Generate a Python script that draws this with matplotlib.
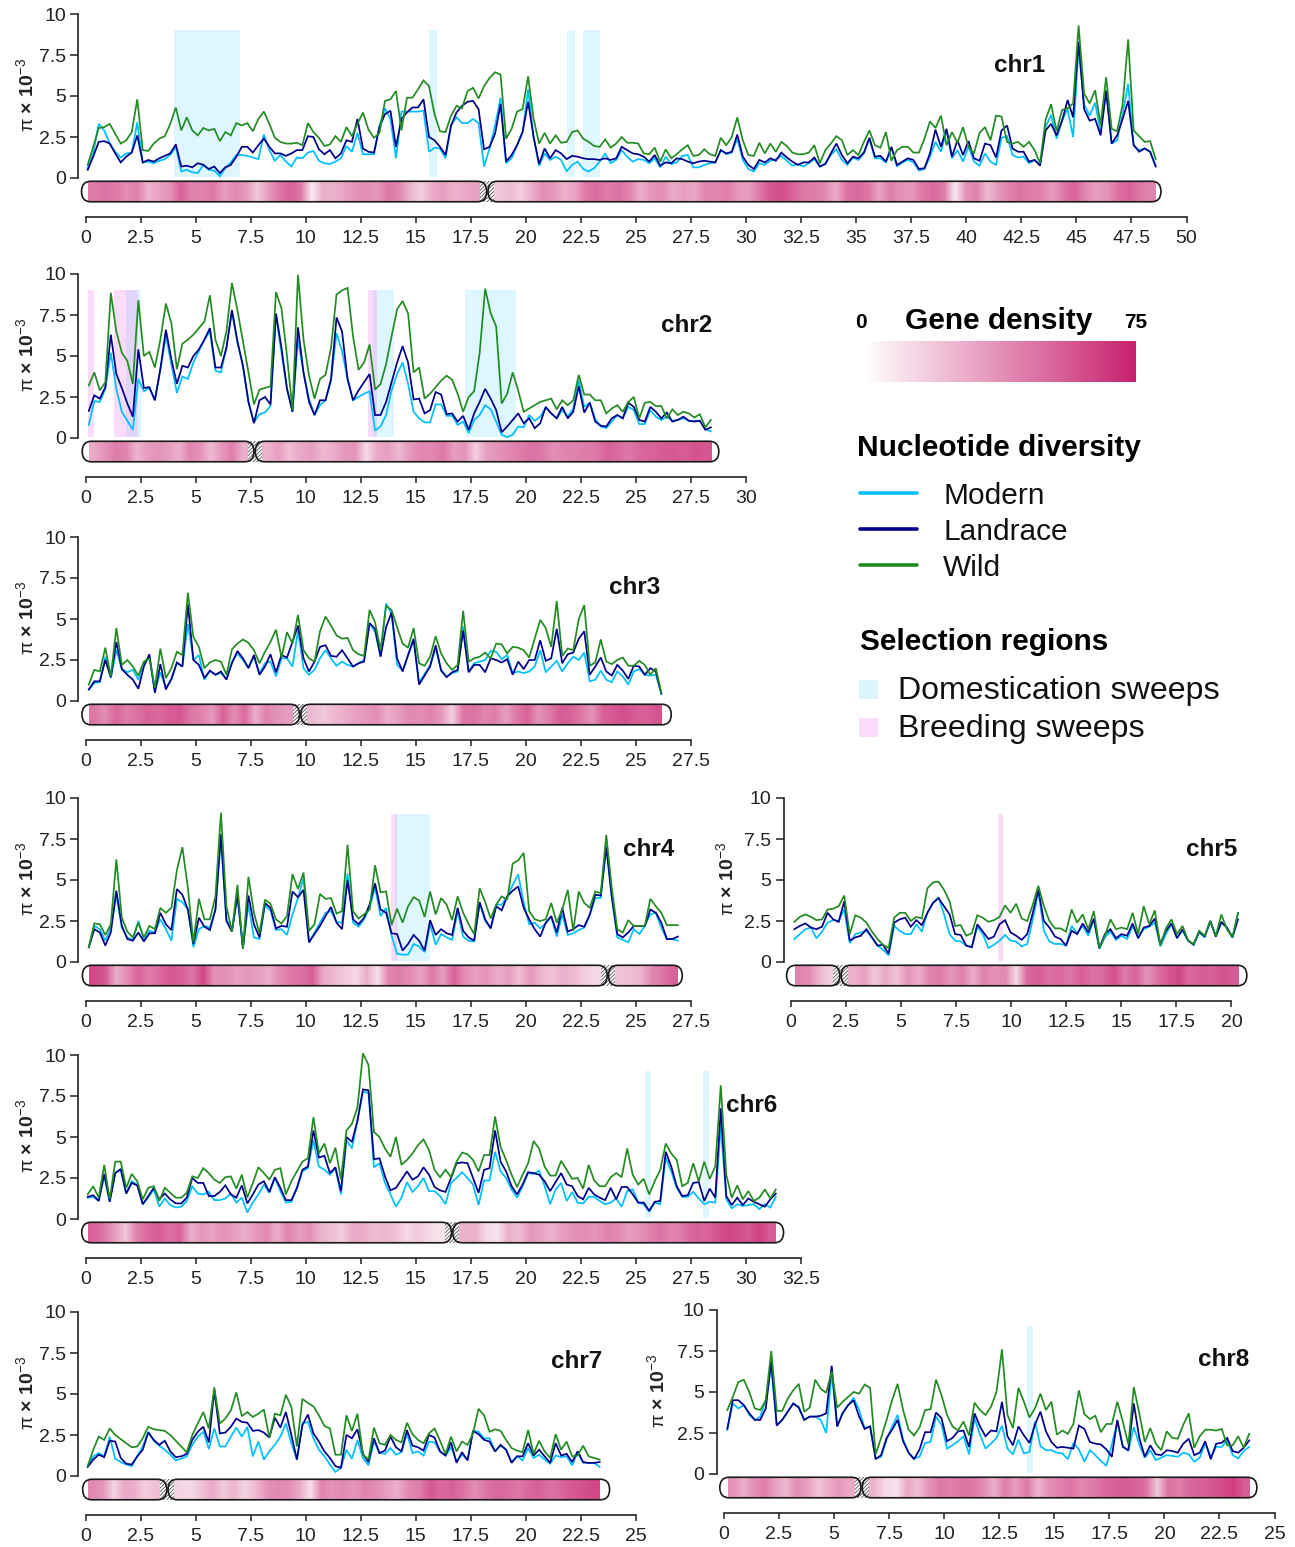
import numpy as np
import matplotlib
matplotlib.use('Agg')
import matplotlib.pyplot as plt
from matplotlib.colors import LinearSegmentedColormap
from matplotlib.lines import Line2D
from matplotlib.patches import FancyBboxPatch, Rectangle

plt.rcParams['font.family'] = ['Liberation Sans', 'DejaVu Sans']
plt.rcParams['mathtext.fontset'] = 'custom'
plt.rcParams['mathtext.rm'] = 'Liberation Sans'
plt.rcParams['mathtext.it'] = 'Liberation Sans'
plt.rcParams['mathtext.bf'] = 'Liberation Sans:bold'
plt.rcParams['hatch.linewidth'] = 0.6

# pi values, 0.25 Mb bins, one row = 5 Mb
chr1_wild = [.8,1.9,3.05,3.1,3.3,2.7,2.1,2.3,2.8,4.8,1.7,1.65,2.1,2.4,2.55,3.3,4.3,2.9,3.7,2.9,
    2.6,3.05,2.9,3.0,2.25,2.8,2.6,3.35,3.2,3.35,2.85,3.6,4.05,3.3,2.45,2.2,2.1,2.1,2.15,2.0,
    3.35,2.8,2.45,1.95,2.05,2.55,2.2,3.1,2.55,3.3,4.0,2.95,2.45,2.75,4.7,4.8,5.3,2.9,4.9,4.9,
    5.4,5.95,5.6,3.9,2.85,2.8,3.8,4.4,4.25,5.3,5.5,4.85,5.6,6.1,6.45,6.3,2.4,3.0,4.05,4.2,
    6.2,3.6,2.1,2.75,2.1,2.6,2.15,2.2,2.8,2.9,2.4,2.2,1.95,1.9,2.35,1.85,2.1,2.5,2.15,2.15,
    2.1,1.5,1.45,1.85,1.0,1.75,1.2,1.45,1.75,2.0,1.35,1.4,1.75,1.45,1.35,2.45,2.0,2.5,3.7,2.3,
    1.4,1.35,2.15,1.5,2.1,1.6,2.2,1.95,1.55,1.45,1.45,1.55,2.0,.9,1.7,2.1,2.55,2.3,1.4,1.7,
    1.4,2.2,2.9,2.0,1.85,2.8,1.05,1.7,1.9,1.9,1.55,1.55,2.4,3.45,3.05,3.8,2.0,2.8,2.15,3.1,
    1.9,1.5,2.75,3.1,2.3,3.8,3.75,2.2,2.1,2.2,1.9,2.2,1.7,.9,3.55,4.5,2.85,4.15,4.25,4.55,
    9.3,5.15,4.55,5.35,3.25,6.15,3.0,2.85,4.5,8.45,2.9,2.55,2.2,2.25,1.15]
chr1_land = [.5,1.3,2.2,2.25,2.1,1.5,.95,1.3,1.55,2.6,.95,1.1,1.0,1.2,1.35,1.5,2.05,.7,.75,.65,
    .9,.8,.55,.7,.3,.65,.8,1.3,1.9,1.9,1.55,2.0,2.4,1.9,1.5,1.5,1.35,1.5,1.7,1.7,
    2.55,2.5,1.75,1.45,1.7,1.2,1.5,2.3,2.2,3.6,1.8,1.6,1.55,3.1,3.9,4.1,1.9,3.6,4.0,4.3,
    4.3,4.8,2.5,2.3,1.9,1.4,3.2,4.0,4.4,4.65,4.7,4.2,1.75,1.9,2.7,4.5,1.0,1.4,2.0,2.8,
    4.65,2.5,.85,1.8,1.2,1.7,1.5,1.15,1.35,1.3,1.2,1.15,1.15,1.1,1.2,1.1,1.2,1.9,1.7,1.5,
    1.45,1.3,1.0,1.4,.75,.95,.9,1.2,1.15,1.0,.9,1.0,1.05,1.0,.95,1.7,1.5,1.6,2.65,1.3,
    .8,.55,1.1,.95,1.2,1.05,1.55,1.25,1.0,.8,.95,.95,1.25,.7,.85,1.5,2.1,1.4,.9,1.3,
    1.2,1.55,2.45,1.3,1.35,1.0,1.9,.8,1.0,1.2,1.1,.55,.6,1.5,2.95,1.9,3.0,1.3,2.3,1.4,
    2.25,1.2,1.05,2.1,2.0,1.25,2.9,3.2,1.8,1.6,1.6,1.0,1.1,.75,2.9,3.3,2.6,3.5,4.75,3.7,
    8.3,4.2,3.5,3.6,2.6,5.3,2.1,2.6,3.6,4.7,2.0,1.6,1.8,1.6,.7]
chr1_mod = [.6,1.5,3.3,2.9,2.1,1.6,1.25,1.5,1.55,3.4,.95,1.0,.9,1.05,1.15,1.4,1.9,.4,.5,.35,
    .3,.8,.5,.45,.1,.6,.95,1.4,1.4,1.35,1.25,1.15,2.65,1.7,1.05,1.4,1.0,.7,1.25,1.2,
    1.55,1.65,1.05,.9,.85,1.0,1.2,1.95,1.6,2.75,1.45,1.45,1.45,3.2,4.25,3.6,1.2,4.05,4.05,4.05,
    4.05,4.1,1.6,1.85,1.8,1.2,3.2,3.7,3.35,3.35,3.6,3.35,.7,1.8,3.2,4.9,.9,1.2,2.0,2.8,
    5.4,2.5,.75,1.5,1.1,1.3,1.1,.4,.8,1.0,.55,.4,.6,1.0,1.5,.9,1.1,1.7,1.3,1.0,
    1.15,1.1,.9,1.2,.65,1.3,.85,.95,1.35,1.4,.65,.65,.8,.9,.95,1.7,1.45,1.55,2.4,1.1,
    .55,.4,.9,.8,1.05,1.15,1.35,1.05,.75,.85,.7,.9,1.15,.7,.9,1.4,1.75,1.1,.8,1.25,
    1.1,1.5,2.4,1.2,1.2,.95,1.85,.7,.95,1.1,.95,.45,.55,1.3,2.2,1.6,2.9,1.2,1.7,1.0,
    1.9,1.0,.75,1.5,1.0,.8,2.45,2.55,1.4,1.25,1.3,.9,1.1,.8,3.1,3.85,2.4,3.5,4.2,2.5,
    8.0,4.5,3.8,4.6,2.8,5.4,2.1,2.3,3.9,5.75,2.0,1.7,1.8,1.6,.75]

chr2_wild = [3.2,4.0,2.9,3.4,8.85,6.5,5.2,4.7,3.3,8.4,5.0,5.25,4.3,6.0,8.2,7.0,4.2,5.75,6.0,6.3,
    6.7,7.1,8.7,6.0,5.0,6.5,9.45,7.8,5.9,4.0,2.05,2.95,3.05,3.15,8.9,7.9,5.0,1.7,9.95,6.0,
    3.8,2.4,3.6,3.85,5.5,8.75,9.0,9.15,6.2,4.15,4.6,5.7,2.95,3.3,4.5,6.2,7.85,8.35,7.6,4.0,
    4.3,2.4,2.7,3.1,3.5,3.8,3.55,2.7,1.6,2.5,2.85,5.2,9.1,7.6,6.8,2.1,2.7,4.0,2.9,1.6,
    1.8,2.0,2.2,2.3,2.4,1.75,2.3,2.0,2.3,3.85,2.65,2.65,2.3,2.3,1.5,1.8,2.0,1.6,2.2,2.5,
    1.2,2.15,2.2,1.95,1.95,1.2,1.75,1.4,1.6,1.5,1.25,1.45,.65,1.1]
chr2_land = [1.65,2.6,2.4,3.1,6.3,3.9,3.05,2.1,1.3,5.4,3.05,3.1,2.3,4.2,6.6,4.8,3.3,4.4,4.3,5.0,
    5.4,6.0,6.7,4.3,4.3,5.5,7.8,5.9,4.4,2.2,.9,2.3,2.5,2.05,7.6,5.5,3.0,1.6,6.75,4.0,
    2.2,1.4,2.3,2.3,3.6,7.35,6.5,3.6,2.3,2.9,3.4,3.9,1.4,1.4,2.2,3.4,4.6,5.6,4.6,2.35,
    2.4,1.5,1.7,2.8,2.65,1.45,1.5,1.0,1.35,.5,1.5,2.2,3.0,2.4,1.7,.35,.7,1.1,1.5,.9,
    1.2,.6,.9,1.9,1.5,1.2,1.9,1.2,1.6,3.15,1.55,2.15,1.0,.75,.7,1.2,1.4,1.2,2.15,1.9,
    1.1,1.0,1.9,1.6,1.2,1.55,1.0,1.1,1.3,1.05,1.0,1.05,.5,.65]
chr2_mod = [.8,2.25,2.2,3.0,5.2,3.0,1.6,1.05,.5,3.6,2.85,3.05,2.3,4.2,6.2,4.5,2.75,3.75,3.6,4.6,
    5.3,6.0,6.5,4.1,4.0,5.5,7.7,5.8,4.4,2.2,.95,1.45,1.55,1.95,7.5,5.2,3.0,1.6,6.0,4.0,
    2.4,1.4,2.0,2.3,3.5,6.4,5.3,3.6,2.3,2.5,2.7,2.85,.45,.7,1.4,2.9,3.9,4.6,3.3,1.6,
    1.2,.95,.95,2.05,2.05,1.35,1.35,.8,1.0,.3,1.1,1.4,2.0,1.75,1.0,.2,.05,.2,.7,.65,
    1.4,1.05,1.3,1.85,1.5,1.2,1.7,1.3,1.8,3.5,1.9,2.15,1.15,.7,.6,1.0,1.4,1.2,1.9,1.7,
    .85,.85,1.7,1.3,1.1,1.3,1.05,1.1,1.2,1.05,1.05,1.05,.55,.4]

chr3_wild = [1.0,1.9,1.8,3.25,1.5,4.45,2.2,2.5,2.1,1.55,2.4,2.6,.8,3.2,1.4,2.0,3.0,2.8,6.6,3.9,
    3.3,2.0,2.35,2.5,2.4,1.6,3.15,3.5,3.75,3.55,3.1,2.3,3.0,3.6,4.35,2.65,4.2,3.5,5.25,3.1,
    2.6,2.4,4.25,5.15,4.6,4.0,3.8,3.85,3.1,2.85,2.75,5.55,4.8,3.1,5.8,5.55,4.5,3.5,3.25,4.45,
    2.3,2.15,2.7,3.95,2.9,2.3,1.9,2.2,5.5,2.4,2.6,2.7,2.95,2.6,3.5,3.45,2.9,3.3,3.25,3.1,
    2.65,3.8,4.95,4.45,3.3,6.1,2.75,3.2,3.1,5.0,5.85,2.15,2.35,3.75,2.4,2.25,2.5,2.65,2.15,2.15,
    2.45,2.2,1.6,2.0,.5]
chr3_land = [.7,1.2,1.2,2.5,1.45,3.6,1.95,1.6,1.3,.75,2.1,2.85,.5,2.25,.7,1.35,2.35,2.1,5.9,2.5,
    2.2,1.4,1.85,1.6,1.8,1.3,2.3,3.05,2.6,2.0,2.8,1.6,2.1,2.85,1.75,2.8,2.65,3.6,4.6,2.6,
    1.8,2.4,3.3,3.4,2.75,2.7,3.1,2.6,2.1,2.3,2.4,4.75,4.4,2.7,4.5,5.4,2.6,1.8,2.8,3.8,
    1.0,1.55,2.1,3.4,1.85,1.45,1.75,1.9,4.3,1.75,2.2,2.2,1.75,2.6,2.5,2.35,2.55,1.6,2.4,1.95,
    2.5,2.5,3.7,2.45,2.6,4.4,2.3,2.85,2.95,3.8,4.25,1.6,2.1,2.65,1.8,1.55,2.2,1.85,1.35,2.15,
    2.1,1.6,2.0,1.8,.45]
chr3_mod = [.7,1.1,1.15,2.7,1.4,3.1,1.95,1.75,1.9,1.3,2.3,2.7,.6,1.75,.8,1.3,2.3,2.1,4.7,2.5,
    2.8,1.3,1.85,1.6,1.7,1.35,2.4,2.9,2.5,2.05,2.7,1.7,2.3,2.4,1.5,2.6,2.6,2.1,4.3,2.0,
    1.6,1.9,2.6,3.1,2.6,2.15,2.4,2.2,2.1,2.3,2.5,4.75,4.2,2.75,5.95,5.3,2.2,1.85,2.8,3.7,
    1.1,1.65,2.2,3.2,1.9,1.5,1.7,1.8,4.55,1.8,2.3,2.4,2.5,3.05,3.0,2.55,2.8,1.7,1.8,1.7,
    1.8,2.1,3.1,1.75,2.1,2.45,1.8,2.3,2.7,2.5,2.95,1.2,1.3,1.85,1.3,1.15,1.8,1.5,1.0,1.8,
    1.95,1.6,1.55,1.6,.45]

chr4_wild = [.9,2.35,2.3,1.65,2.3,6.25,2.7,1.85,1.5,2.4,1.5,2.2,2.0,3.3,3.0,3.3,5.6,7.0,4.5,1.2,
    3.85,2.6,2.6,4.0,9.1,3.4,1.85,4.7,.8,5.2,3.0,1.75,3.8,3.55,2.6,2.35,2.8,5.35,4.45,5.45,
    1.9,2.3,4.15,3.85,3.9,2.95,3.1,7.15,3.1,2.65,2.9,3.2,5.9,4.25,4.3,2.25,3.25,2.4,3.4,3.95,
    3.75,2.75,4.3,2.9,3.9,3.5,2.55,4.0,3.0,2.3,1.7,4.5,3.65,2.65,3.5,4.0,3.8,6.0,6.2,6.65,
    3.1,2.6,2.5,2.6,3.6,2.4,3.2,4.4,1.9,4.3,3.6,3.3,4.3,4.2,7.75,4.5,2.0,1.8,2.55,2.2,
    2.2,2.2,3.85,3.4,3.0,2.25,2.25,2.25]
chr4_land = [.9,2.0,1.8,1.0,1.8,4.35,2.2,1.4,1.3,1.8,1.25,1.75,1.75,3.0,2.3,1.95,4.45,4.1,3.2,1.1,
    2.7,2.15,1.95,3.2,7.8,2.5,1.85,4.1,.8,4.05,2.3,1.5,3.6,3.3,2.05,2.2,2.15,4.3,3.95,4.4,
    1.2,1.7,2.2,2.8,3.35,2.4,2.0,5.0,2.6,2.3,2.7,3.5,4.8,3.2,3.0,1.75,1.7,.7,1.1,1.65,
    1.3,.7,2.55,1.65,2.0,1.75,1.65,3.3,1.9,1.5,1.3,3.65,2.6,2.05,3.4,3.15,4.0,4.35,4.6,3.3,
    2.6,2.0,1.55,2.4,2.8,1.8,3.3,1.85,2.0,2.25,2.15,2.9,4.1,4.05,7.0,4.0,1.7,1.5,1.8,2.2,
    2.2,2.2,3.2,3.0,2.4,1.4,1.4,1.55]
chr4_mod = [.9,2.2,2.0,1.3,2.1,4.1,2.1,1.5,1.35,2.5,1.35,1.9,1.8,2.6,2.0,1.3,3.85,3.65,3.2,.9,
    2.0,2.2,2.1,3.2,7.5,2.6,1.9,4.0,.9,3.5,1.5,1.4,3.45,3.15,1.95,2.0,1.65,2.9,3.9,5.1,
    1.2,1.8,2.4,3.0,3.1,2.45,2.4,5.4,2.4,2.15,2.6,3.3,4.55,2.8,3.3,1.6,.5,.45,.45,1.1,
    .95,.6,2.3,1.05,1.7,1.5,1.35,3.1,1.55,1.3,1.25,3.6,2.5,2.05,3.5,3.5,4.0,4.7,5.35,3.6,
    2.3,2.4,2.05,2.35,2.75,1.55,2.9,1.65,1.75,1.95,2.1,2.85,3.9,3.9,7.1,3.9,1.5,1.35,1.2,2.0,
    1.7,2.2,2.9,3.0,2.1,1.4,1.4,1.3]

chr5_wild = [2.45,2.75,2.9,2.75,2.55,2.6,3.2,3.25,3.4,4.05,1.7,2.85,2.7,2.4,1.85,1.4,1.05,.85,2.7,3.0,
    3.0,2.5,2.75,2.65,4.5,4.85,4.9,4.4,3.7,2.2,2.25,1.6,1.75,2.85,2.7,2.45,2.55,2.75,3.45,3.0,
    3.55,2.65,2.5,3.5,4.65,3.4,2.5,2.05,2.05,1.85,3.2,2.4,2.9,2.0,3.1,.85,1.6,2.6,2.0,2.1,
    2.0,3.0,1.7,3.4,2.3,3.15,1.0,2.05,2.6,1.7,2.2,1.3,1.1,1.9,1.6,2.5,1.6,2.9,2.0,1.5,
    3.0]
chr5_land = [2.0,2.2,2.35,2.1,2.0,2.15,3.0,2.6,2.45,3.7,1.3,1.5,1.6,2.0,1.5,1.0,1.05,.5,2.4,2.6,
    2.7,2.15,2.55,2.25,3.0,3.6,3.9,3.4,2.9,1.7,1.65,1.0,.9,2.3,1.85,1.4,1.55,2.3,2.55,1.8,
    1.6,1.35,1.7,3.0,4.4,2.5,2.1,1.55,1.4,1.0,1.9,1.7,2.35,1.8,2.65,.85,1.7,2.0,1.45,1.7,
    1.6,2.35,1.45,2.1,2.2,2.65,1.1,1.9,2.35,1.45,2.0,1.3,1.05,1.85,1.55,2.5,1.55,2.45,2.1,1.5,
    2.6]
chr5_mod = [1.4,1.7,2.0,2.1,1.45,1.85,2.4,2.55,2.5,3.2,1.15,1.7,1.8,1.9,1.5,1.0,.75,.4,2.2,1.9,
    1.7,1.7,2.3,1.85,3.0,3.6,3.95,2.9,1.7,1.3,1.25,1.0,.9,2.15,1.7,.85,1.05,1.3,1.65,1.3,
    1.25,.95,1.1,2.6,4.3,1.9,1.25,1.1,1.1,1.0,2.2,1.75,2.2,1.6,2.6,.8,1.5,1.85,1.35,1.6,
    1.4,2.2,1.5,2.0,2.15,2.4,.95,1.7,2.3,1.5,1.9,1.3,1.1,1.8,1.5,2.5,1.55,2.4,2.1,1.5,
    3.0]

chr6_wild = [1.5,2.0,1.3,3.3,1.2,3.5,3.5,1.9,2.75,2.3,1.2,1.9,2.0,1.1,1.9,1.6,1.3,1.3,1.6,2.6,
    2.5,3.1,2.8,2.4,2.2,2.55,2.6,1.85,2.7,1.3,2.2,3.15,2.8,2.4,3.0,3.1,1.5,2.3,2.9,3.5,
    3.7,6.2,4.0,4.6,3.4,4.35,2.4,5.4,5.8,6.8,10.1,9.4,5.3,5.0,4.3,3.8,5.0,3.3,3.6,4.0,
    4.5,4.85,4.2,3.0,2.55,3.0,2.55,3.5,4.05,3.95,3.6,2.9,3.9,3.9,6.25,4.4,3.6,2.7,1.95,2.7,
    3.4,4.75,4.3,3.2,2.65,2.65,3.55,3.0,2.45,2.5,1.85,3.3,2.35,2.0,2.0,2.55,2.8,2.55,4.3,2.7,
    2.1,2.45,1.5,2.3,3.0,4.6,4.0,3.6,2.0,2.2,3.4,2.3,3.5,2.45,3.2,8.15,2.7,1.3,2.05,1.2,
    1.7,1.1,1.3,1.8,1.25,1.8]
chr6_land = [1.35,1.45,1.1,2.75,1.05,2.8,3.05,1.55,2.2,2.05,.9,1.4,1.9,1.2,1.55,1.2,.95,.95,1.3,2.5,
    2.2,2.2,1.4,1.4,1.65,2.05,1.5,1.3,2.05,.95,1.5,2.1,2.3,1.65,2.55,1.9,1.15,1.15,1.9,3.0,
    3.2,5.4,3.75,3.85,2.8,3.15,1.7,5.0,4.7,6.0,7.9,7.85,3.65,3.7,2.6,1.75,1.9,2.4,2.9,2.4,
    2.6,3.15,2.7,1.95,1.75,1.65,2.5,3.4,3.45,3.4,2.5,1.6,3.0,3.1,5.4,3.5,2.9,2.0,1.5,2.1,
    2.85,2.8,2.7,2.3,1.7,2.25,2.8,2.1,2.0,1.4,1.2,1.9,1.5,1.3,1.15,1.9,1.2,1.95,1.95,1.5,
    1.0,1.0,.5,1.05,1.1,4.1,3.2,2.0,1.4,1.45,2.2,2.25,1.1,1.85,1.3,6.75,1.4,.85,1.3,.85,
    1.25,1.05,.9,.75,1.2,1.55]
chr6_mod = [1.3,1.35,1.1,2.6,1.05,2.8,3.0,1.55,2.3,2.1,.9,1.3,1.8,.75,1.25,.85,.7,.75,1.1,2.0,
    1.55,1.5,1.65,1.15,1.15,1.25,1.55,1.0,1.3,.4,1.0,1.5,2.1,1.6,2.5,1.7,1.0,1.05,1.85,2.9,
    3.1,4.8,3.2,3.0,2.7,3.1,1.5,4.8,4.3,6.0,7.75,7.7,3.15,3.4,2.2,1.5,.75,1.3,2.25,1.65,
    2.0,2.5,1.7,1.7,1.4,.9,2.2,2.5,2.85,2.5,2.1,.85,2.35,2.35,4.1,2.9,2.5,1.8,1.3,2.0,
    2.8,2.75,2.95,2.0,.9,1.8,2.2,1.1,1.65,1.0,.95,1.35,1.35,1.1,.9,1.0,1.25,.75,1.7,1.8,
    1.0,.9,.45,1.0,.9,3.75,2.9,1.9,1.35,1.35,1.65,1.25,.9,1.05,1.0,5.7,1.2,.65,.9,.8,
    .85,.9,.6,.9,.7,1.35]

chr7_wild = [.6,1.6,2.4,2.2,2.9,2.5,2.25,2.0,1.75,1.8,2.3,3.0,2.85,2.8,2.75,2.5,2.15,1.8,1.45,2.5,
    3.2,3.9,2.9,5.4,3.2,3.5,4.0,5.1,3.65,3.9,3.6,3.8,4.05,2.35,3.8,3.7,4.95,4.2,1.8,4.7,
    4.45,4.25,3.7,3.05,2.9,1.3,1.3,3.7,2.75,3.8,1.3,1.0,2.95,2.0,1.9,2.5,2.2,2.05,3.25,2.55,
    2.2,2.0,2.6,2.9,2.15,1.35,2.4,1.5,2.1,1.9,2.6,4.1,3.7,2.7,2.85,2.75,2.2,1.7,1.55,1.45,
    2.8,1.35,2.15,1.5,1.1,2.55,1.6,2.1,1.2,1.25,1.85,1.2,1.1,1.0]
chr7_land = [.55,1.0,1.3,1.15,2.15,2.1,1.1,.75,.7,1.2,1.6,2.65,2.2,1.9,2.15,1.5,1.15,1.2,1.35,2.2,
    2.7,3.0,2.05,5.2,2.6,2.65,3.0,3.5,3.3,3.25,2.75,2.8,2.65,2.35,3.55,2.95,3.9,2.5,1.0,3.1,
    3.75,2.6,2.1,1.5,1.1,.6,.5,2.5,2.3,2.85,1.35,.85,2.3,1.4,1.55,2.4,1.75,1.5,2.8,1.85,
    1.75,1.55,2.5,2.35,1.5,1.25,2.05,.8,1.45,.95,2.75,2.55,2.2,2.1,1.5,1.9,1.6,.8,1.2,1.2,
    2.0,1.25,1.6,1.2,.8,2.0,1.25,1.35,.85,1.5,.85,.8,.8,.85]
chr7_mod = [.6,1.2,1.4,1.2,2.4,1.05,.85,.7,.6,1.2,1.8,2.7,2.15,1.85,1.6,1.3,.95,1.05,1.2,1.9,
    2.4,2.7,1.65,2.9,1.8,1.8,2.4,2.95,2.4,3.0,1.2,2.1,1.0,1.5,1.9,2.4,3.2,2.0,1.0,3.2,
    3.3,2.3,1.6,1.2,.7,.25,.5,1.6,1.05,2.2,1.1,.65,2.1,1.4,1.35,1.7,1.3,1.45,2.6,1.4,
    1.5,1.25,2.1,2.05,1.5,1.25,1.75,.9,1.3,1.0,2.75,2.7,2.3,2.3,1.5,1.85,1.6,.85,1.2,.95,
    1.7,1.1,1.3,1.0,.75,1.25,1.15,1.2,.65,1.45,.8,.8,.8,.55]

chr8_wild = [3.9,4.7,5.6,5.75,5.0,4.0,3.9,4.5,7.5,3.85,3.85,4.6,5.1,5.5,3.8,4.05,5.75,5.2,4.95,6.25,
    4.05,4.4,4.7,5.0,4.9,5.45,5.25,1.2,2.2,3.3,4.5,5.5,3.9,2.7,2.35,2.85,3.9,3.95,5.75,4.8,
    3.6,2.9,2.65,3.2,2.35,4.35,3.9,3.6,4.1,5.0,7.6,3.6,2.8,5.25,4.4,3.45,4.0,4.9,3.9,4.4,
    2.4,2.65,2.45,3.05,5.1,3.65,3.35,3.55,2.55,3.05,3.05,4.4,3.2,1.8,5.3,3.7,1.95,2.8,1.85,1.45,
    2.6,2.2,2.15,3.0,3.7,1.6,2.3,2.7,2.7,2.65,2.75,1.75,1.75,2.3,1.6,2.45]
chr8_land = [2.75,4.5,4.5,4.2,3.7,3.3,3.3,4.0,6.9,2.95,3.3,3.8,4.3,4.05,3.3,3.5,3.5,3.55,3.7,6.6,
    2.9,3.7,4.2,4.5,3.5,2.75,2.9,.9,1.15,2.2,2.7,3.3,2.0,1.3,.9,1.5,2.55,2.55,3.75,3.4,
    2.0,2.2,2.6,2.65,1.65,3.7,2.9,2.3,2.65,2.6,4.4,2.3,1.75,2.9,2.35,1.9,3.0,3.8,2.6,1.95,
    1.6,1.65,1.6,1.55,2.95,2.75,1.95,1.85,1.8,1.5,1.05,3.3,1.65,1.45,4.3,2.2,1.05,1.75,1.2,1.15,
    1.45,1.4,1.3,1.85,2.15,1.15,1.3,2.0,.9,1.85,1.9,2.2,1.4,1.3,1.6,2.05]
chr8_mod = [2.7,4.3,4.0,4.2,3.6,3.3,3.5,4.5,6.5,3.0,3.3,3.8,4.3,4.1,3.3,3.5,3.5,3.3,2.5,6.2,
    2.9,3.75,4.2,4.65,3.9,2.8,2.9,.95,1.05,2.1,2.9,3.6,2.1,1.3,.95,1.05,1.9,1.95,3.5,3.0,
    1.55,1.75,2.0,2.3,1.2,3.4,2.4,1.55,1.85,2.2,2.95,1.55,1.2,2.1,1.25,1.35,3.2,1.7,1.45,1.45,
    1.3,1.25,.9,1.9,1.5,.75,1.45,1.15,.8,.5,1.8,3.2,1.7,1.4,2.85,1.8,1.0,1.45,.85,1.0,
    1.15,1.1,1.05,1.3,1.2,.75,1.0,1.85,1.05,1.65,1.65,2.05,1.15,.95,1.4,1.65]

# first and last bin of each chromosome (Mb)
bin_start = [.1, .15, .15, .15, .15, .1, .1, .15]
bin_end = [48.6, 28.4, 26.15, 26.9, 20.3, 31.35, 23.35, 23.85]

# gene density along each arm
chr1_p = [48,52,50,42,48,28,34,40,58,45,46,50,36,44,38,20,36,50,58,50,8,30,28,34,40,42,38,50,44,28,18,30,36,28,32,35]
chr1_q = [20,25,18,30,42,38,28,34,50,55,48,52,46,30,38,42,30,36,32,45,44,48,38,36,50,62,66,58,50,48,44,30,52,56,50,34,48,40,38,50,55,48,8,40,46,25,38,46,52,48,46,36,50,58,44,36,40,52,58,50,45]
chr2_p = [32,40,48,46,28,36,40,36,30,45,40,26,38,48,30]
chr2_q = [28,36,24,32,36,26,30,38,40,14,32,36,26,38,45,44,50,36,40,18,36,40,44,48,52,50,42,45,46,48,50,58,54,50,56,58,60,62,60,64,62]
chr3_p = [50,42,56,48,52,58,55,60,62,50,46,38,58,42,55,30,46,40,36]
chr3_q = [26,20,26,30,35,38,42,30,36,44,42,46,38,18,50,52,45,48,36,50,58,40,48,60,58,50,40,58,62,65,60,58,64]
chr4_p = [68,62,30,42,58,48,55,62,58,50,68,40,42,35,38,36,30,42,50,52,60,32,26,20,14,30,12,45,48,42,34,50,36,58,42,35,40,30,36,24,38,28,22,30,26,18,14]
chr4_q = [22,24,28,44,50,58]
chr5_p = [46,42,28,18]
chr5_q = [28,35,20,32,22,40,30,45,48,38,48,30,46,40,44,14,55,60,52,56,50,60,52,55,65,48,58,40,52,62,68,55,60,58,64,60]
chr6_p = [58,50,36,22,46,55,60,52,58,30,38,34,40,36,30,38,44,30,46,36,42,28,24,18,32,30,24,28,22,14,20,14,10]
chr6_q = [28,30,14,10,30,24,38,34,28,36,40,42,38,46,44,36,40,46,52,44,50,58,56,62,68,66,62,70,60]
chr7_p = [44,38,16,32,30,18,24]
chr7_q = [16,14,22,32,20,28,16,26,40,44,42,32,12,46,40,44,38,46,42,36,30,44,48,62,55,58,52,42,50,56,54,50,56,58,52,56,62,64,68]
chr8_p = [40,30,42,48,34,26,42,36,22,30,38,32]
chr8_q = [28,14,10,32,24,40,50,46,52,50,42,30,48,36,50,28,40,46,52,44,48,55,58,60,58,52,20,52,48,56,58,62,66,72,60]

# centromere position and the outer ends of the chromosome (Mb)
centromere = [18.25, 7.68, 9.75, 23.72, 2.25, 16.65, 3.72, 6.25]
chrom_left = [-.18, -.15, -.16, -.14, -.2, -.17, -.13, -.19]
chrom_right = [48.84, 28.76, 26.6, 27.1, 20.7, 31.7, 23.8, 24.2]

# selection regions (Mb)
dom_sweeps = [[(4.0, 7.0), (15.6, 15.95), (21.85, 22.25), (22.6, 23.35)],
              [(1.85, 2.5), (13.05, 14.0), (17.25, 19.55)],
              [], [(14.05, 15.63)], [], [(25.4, 25.7), (28.05, 28.3)], [], [(13.77, 14.02)]]
breed_sweeps = [[], [(.1, .4), (1.3, 2.4), (12.85, 13.25)], [], [(13.87, 14.13)],
                [(9.38, 9.63)], [], [], []]

x_max = [50, 30, 27.5, 27.5, 20, 32.5, 25, 25]
names = ['chr1', 'chr2', 'chr3', 'chr4', 'chr5', 'chr6', 'chr7', 'chr8']
wild = [chr1_wild, chr2_wild, chr3_wild, chr4_wild, chr5_wild, chr6_wild, chr7_wild, chr8_wild]
land = [chr1_land, chr2_land, chr3_land, chr4_land, chr5_land, chr6_land, chr7_land, chr8_land]
mod = [chr1_mod, chr2_mod, chr3_mod, chr4_mod, chr5_mod, chr6_mod, chr7_mod, chr8_mod]
dens_p = [chr1_p, chr2_p, chr3_p, chr4_p, chr5_p, chr6_p, chr7_p, chr8_p]
dens_q = [chr1_q, chr2_q, chr3_q, chr4_q, chr5_q, chr6_q, chr7_q, chr8_q]

# layout in pixels of the picture
W, H = 1295, 1547
MB = 22.02
x0_px = [85.5, 85.5, 85.5, 85.5, 791, 85.5, 85.5, 724]
y0_px = [178, 438, 701, 962, 962, 1219, 1476, 1474]
ylab_px = [26, 26, 26, 26, 726, 26, 26, 657]
label_px = [(1020, 65), (687, 325), (635, 588), (649, 849), (1212, 849), (752, 1106), (577, 1362), (1224, 1360)]

C_MOD, C_LAND, C_WILD = '#00BFFF', '#00008B', '#228B22'
C_DOM, C_BREED = '#DCF5FD', '#FBDDFB'
dens_cmap = LinearSegmentedColormap.from_list('dens', ['#FFFFFF', '#C8226F'])
INK = '#222222'

fig = plt.figure(figsize=(W / 100, H / 100), dpi=100)


def text_px(x, y, s, **kw):
    kw.setdefault('va', 'center')
    return fig.text(x / W, 1 - y / H, s, **kw)


for i in range(8):
    x0, y0 = x0_px[i], y0_px[i]
    ax = fig.add_axes([x0 / W, 1 - y0 / H, MB * x_max[i] / W, 164 / H])
    ax.patch.set_alpha(0)

    # sweeps
    for a, b in dom_sweeps[i]:
        ax.axvspan(a, b, ymin=.005, ymax=.9, color='#00BFFF', alpha=.13, lw=0, zorder=1)
    for a, b in breed_sweeps[i]:
        ax.axvspan(a, b, ymin=.005, ymax=.9, color='#EE82EE', alpha=.28, lw=0, zorder=1)

    # diversity lines
    for vals, c in [(mod[i], C_MOD), (land[i], C_LAND), (wild[i], C_WILD)]:
        xs = np.linspace(bin_start[i], bin_end[i], len(vals))
        ax.plot(xs, vals, color=c, lw=1.25, clip_on=False, zorder=3, solid_joinstyle='miter')

    # chromosome
    y_top, y_bot = -.2, -1.45
    c = centromere[i]
    img_kw = dict(aspect='auto', cmap=dens_cmap, vmin=0, vmax=82, interpolation='bilinear',
                  clip_on=False, zorder=2)
    ax.imshow(np.array([dens_p[i]]), extent=(bin_start[i] + .02, c - .32, y_bot, y_top), **img_kw)
    ax.imshow(np.array([dens_q[i]]), extent=(c + .32, bin_end[i], y_bot, y_top), **img_kw)
    ax.add_patch(Rectangle((c - .32, y_bot), .64, y_top - y_bot, fc='white', ec='#555555', hatch='/////////',
                           lw=0, clip_on=False, zorder=2))
    for a, b in [(chrom_left[i], c - .03), (c + .03, chrom_right[i])]:
        ax.add_patch(FancyBboxPatch((a, y_bot), b - a, y_top - y_bot,
                                    boxstyle='round,pad=0,rounding_size=.42', mutation_aspect=1.48,
                                    fc='none', ec='#1a1a1a', lw=1.2, clip_on=False, zorder=4))

    ax.set_xlim(0, x_max[i])
    ax.set_ylim(0, 10)
    ticks = np.arange(0, x_max[i] + .01, 2.5)
    ax.set_xticks(ticks)
    ax.set_xticklabels(['%g' % t for t in ticks])
    ax.set_yticks([0, 2.5, 5, 7.5, 10])
    ax.set_yticklabels(['0', '2.5', '5', '7.5', '10'])
    for s in ['top', 'right']:
        ax.spines[s].set_visible(False)
    ax.spines['left'].set_position(('outward', 5.4))
    ax.spines['bottom'].set_position(('outward', 28.1))
    ax.spines['left'].set_linewidth(1.2)
    ax.spines['bottom'].set_linewidth(1.2)
    ax.spines['left'].set_color(INK)
    ax.spines['bottom'].set_color(INK)
    ax.tick_params(axis='y', length=5.8, width=1.1, pad=3, labelsize=14, color=INK, labelcolor=INK)
    ax.tick_params(axis='x', length=4.6, width=1.1, pad=4.5, labelsize=14, color=INK, labelcolor=INK)

    text_px(ylab_px[i], y0 - 83, r'$\pi$ × 10$^{-3}$', rotation=90, ha='center', fontsize=14,
            color=INK, fontweight='bold')
    text_px(label_px[i][0], label_px[i][1], names[i], ha='center', fontsize=17.5, fontweight='bold', color='#111111')

# gene density legend
cax = fig.add_axes([865 / W, 1 - 382 / H, 271 / W, 41 / H])
cax.imshow(np.linspace(0, 75, 256)[None, :], aspect='auto', cmap=dens_cmap, vmin=0, vmax=75)
cax.axis('off')
text_px(861, 322, '0', ha='center', fontsize=15, fontweight='bold')
text_px(1136, 322, '75', ha='center', fontsize=15, fontweight='bold')
text_px(905, 321, 'Gene density', ha='left', fontsize=21.5, fontweight='bold')

text_px(857, 448, 'Nucleotide diversity', ha='left', fontsize=21.5, fontweight='bold')
for y, lab, col in [(493, 'Modern', C_MOD), (529, 'Landrace', C_LAND), (565, 'Wild', C_WILD)]:
    fig.add_artist(Line2D([860 / W, 917 / W], [1 - y / H, 1 - y / H], color=col, lw=2.6,
                          solid_capstyle='round'))
    text_px(943, y + 3, lab, ha='left', fontsize=21.5, color='#111111')

text_px(860, 642, 'Selection regions', ha='left', fontsize=21.4, fontweight='bold')
for y, lab, col in [(689, 'Domestication sweeps', C_DOM), (727, 'Breeding sweeps', C_BREED)]:
    fig.add_artist(Rectangle((859 / W, 1 - (y + 10) / H), 19 / W, 19 / H, fc=col, ec='none',
                             transform=fig.transFigure))
    text_px(898, y + 2, lab, ha='left', fontsize=23.1, color='#111111')

fig.savefig('out.png', dpi=100)
